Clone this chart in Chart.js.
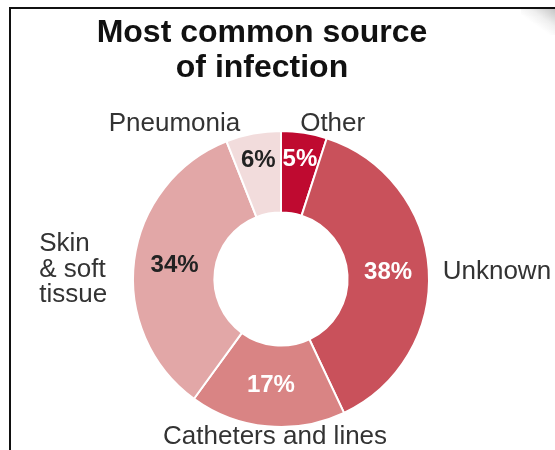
<!DOCTYPE html>
<html>
<head>
<meta charset="utf-8">
<script src="https://cdn.jsdelivr.net/npm/chart.js@4/dist/chart.umd.min.js"></script>
<style>
  html, body { margin: 0; padding: 0; background: #fff; }
  #wrap { position: relative; width: 555px; height: 450px; overflow: hidden; }
  #sourceChart { position: absolute; left: 0; top: 0; }
  .frame {
    position: absolute; left: 9px; top: 7px; right: -10px; bottom: -10px;
    border-left: 2px solid #111; border-top: 2px solid #111;
    pointer-events: none;
  }
  .curl {
    position: absolute; right: 0; top: 9px; width: 34px; height: 26px;
    background: linear-gradient(215deg, rgba(150,150,150,0.55) 0%, rgba(210,210,210,0.35) 35%, rgba(255,255,255,0) 60%);
    pointer-events: none;
  }
</style>
</head>
<body>
<div id="wrap">
  <canvas id="sourceChart" width="555" height="450"></canvas>
  <div class="frame"></div>
  <div class="curl"></div>
</div>
<script>
const categories = ['Other', 'Unknown', 'Catheters and lines', 'Skin & soft tissue', 'Pneumonia'];
const shares = [5, 38, 17, 34, 6];
const sliceColors = ['#bf0a30', '#c9515b', '#d98484', '#e2a7a7', '#f2dcdc'];
const valueColors = ['#ffffff', '#ffffff', '#ffffff', '#222222', '#222222'];

// outside label lines and where they sit relative to the outer edge of their slice
const outerLabels = [
    { lines: ['Other'], align: 'left', dx: -4, dy: -9 },
    { lines: ['Unknown'], align: 'left', dx: 14, dy: 2 },
    { lines: ['Catheters and lines'], align: 'center', dx: 8, dy: 10 },
    { lines: ['Skin', '& soft', 'tissue'], align: 'block-right', dx: -27, dy: 9 },
    { lines: ['Pneumonia'], align: 'right', dx: -13, dy: -10 }
];

const FONT = '"Liberation Sans", Arial, Helvetica, sans-serif';

const labelPlugin = {
    id: 'sliceLabels',
    afterDatasetsDraw(chart) {
        const ctx = chart.ctx;
        const meta = chart.getDatasetMeta(0);
        ctx.save();

        // title
        ctx.fillStyle = '#111';
        ctx.textAlign = 'center';
        ctx.textBaseline = 'alphabetic';
        ctx.font = 'bold 32px ' + FONT;
        ctx.fillText('Most common source', 262, 42);
        ctx.fillText('of infection', 262, 77);

        meta.data.forEach((arc, i) => {
            const p = arc.getProps(['x', 'y', 'startAngle', 'endAngle', 'innerRadius', 'outerRadius'], true);
            const mid = (p.startAngle + p.endAngle) / 2;
            const sweep = p.endAngle - p.startAngle;

            // percentage inside the ring; thin slices get pushed outward
            let r = (p.innerRadius + p.outerRadius) / 2;
            if (sweep < 0.7) r = p.outerRadius - 27;
            ctx.font = 'bold 24px ' + FONT;
            ctx.fillStyle = valueColors[i];
            ctx.textAlign = 'center';
            ctx.textBaseline = 'middle';
            ctx.fillText(shares[i] + '%', p.x + Math.cos(mid) * r, p.y + Math.sin(mid) * r);

            // category name outside the ring
            const cfg = outerLabels[i];
            const ax = p.x + Math.cos(mid) * p.outerRadius + cfg.dx;
            const ay = p.y + Math.sin(mid) * p.outerRadius + cfg.dy;
            ctx.font = '26px ' + FONT;
            ctx.fillStyle = '#333';
            const lh = 25.5;
            const top = ay - (cfg.lines.length - 1) * lh / 2;
            let x = ax;
            if (cfg.align === 'block-right') {
                const w = Math.max(...cfg.lines.map(t => ctx.measureText(t).width));
                x = ax - w;
                ctx.textAlign = 'left';
            } else {
                ctx.textAlign = cfg.align;
            }
            cfg.lines.forEach((t, k) => ctx.fillText(t, x, top + k * lh));
        });
        ctx.restore();
    }
};

new Chart(document.getElementById('sourceChart'), {
    type: 'doughnut',
    data: {
        labels: categories,
        datasets: [{
            data: shares,
            backgroundColor: sliceColors,
            borderColor: '#ffffff',
            borderWidth: 2
        }]
    },
    options: {
        responsive: false,
        animation: false,
        events: [],
        cutout: '45%',
        layout: { padding: { top: 130, bottom: 22, left: 60, right: 53 } },
        plugins: {
            legend: { display: false },
            tooltip: { enabled: false },
            title: { display: false }
        }
    },
    plugins: [labelPlugin]
});
</script>
</body>
</html>
